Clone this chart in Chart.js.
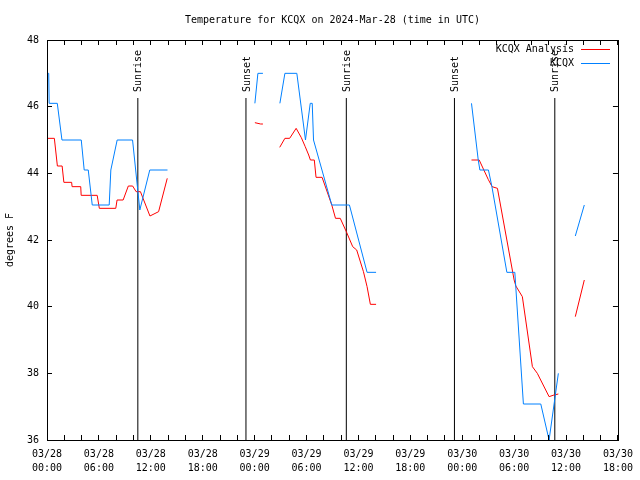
<!DOCTYPE html>
<html>
<head>
<meta charset="utf-8">
<script src="https://cdn.jsdelivr.net/npm/chart.js@4.4.1/dist/chart.umd.min.js"></script>
<style>
html,body{margin:0;padding:0;background:#fff;}
canvas{display:block;}
</style>
</head>
<body>
<canvas id="c" width="640" height="480"></canvas>
<script>
// ---- Data (hours since 2024-03-28 00:00 UTC) ----
const titleText = 'Temperature for KCQX on 2024-Mar-28 (time in UTC)';
const yAxisTitle = 'degrees F';
const seriesNames = ['KCQX Analysis', 'KCQX'];

const xTickDays  = ['03/28','03/28','03/28','03/28','03/29','03/29','03/29','03/29','03/30','03/30','03/30','03/30'];
const xTickTimes = ['00:00','06:00','12:00','18:00','00:00','06:00','12:00','18:00','00:00','06:00','12:00','18:00'];
const yTicks = [36, 38, 40, 42, 44, 46, 48];

const analysisHours = [0,0.85,1.2,1.75,1.95,2.85,2.9,3.9,3.95,5.8,6.05,7.95,8.1,8.8,9.4,9.9,10.3,10.8,11.9,12.9,13.9, 14,
  24.03,24.7,24.96, 25,
  26.9,27.5,28.05,28.8,29.4,29.85,30.25,30.45,30.9,31.1,31.8,32.92,33.35,33.9,34.6,35.34,35.8,36.58,37.0,37.38,38.04, 38.1,
  49.07,49.96,51.0,51.45,52.07,54.0,54.2,54.95,56.11,56.68,58.04,58.6,59.11, 59.2,
  61.07,62.11];
const analysisTemps = [45.05,45.05,44.22,44.22,43.73,43.73,43.6,43.6,43.34,43.34,42.95,42.95,43.2,43.2,43.62,43.62,43.45,43.45,42.72,42.85,43.85, null,
  45.52,45.48,45.48, null,
  44.78,45.05,45.05,45.35,45.07,44.8,44.55,44.4,44.4,43.88,43.88,43.05,42.65,42.65,42.25,41.8,41.7,41.05,40.6,40.07,40.07, null,
  44.4,44.4,43.82,43.6,43.55,40.8,40.62,40.3,38.2,38.0,37.3,37.35,37.38, null,
  39.7,40.8];

const obsHours = [0,0.2,0.25,1.19,1.73,3.96,4.3,4.77,5.23,7.19,7.38,8.11,9.89,10.73,11.88,13.93, 14,
  24.03,24.38,24.96, 25,
  26.92,27.5,28.88,29.88,30.43,30.66,30.81,32.92,34.96,37.0,38.04, 38.1,
  49.07,49.85,50.04,51.03,51.43,53.16,54.08,55.07,57.08,58.04,59.11, 59.2,
  61.07,62.11];
const obsTemps = [47.0,47.0,46.1,46.1,45.0,45.0,44.1,44.1,43.05,43.05,44.1,45.0,45.0,42.9,44.1,44.1, null,
  46.1,47.0,47.0, null,
  46.1,47.0,47.0,45.0,46.1,46.1,45.0,43.05,43.05,41.03,41.03, null,
  46.1,44.4,44.1,44.1,43.6,41.03,41.03,37.08,37.08,36.0,38.0, null,
  42.12,43.05];

const eventHours  = [10.5, 23.0, 34.6, 47.1, 58.7];
const eventLabels = ['Sunrise','Sunset','Sunrise','Sunset','Sunrise'];
const eventTop = 46.26;

// ---- Build ----
const FONT = 'DejaVu Sans Mono';
const RED = '#ff0000';
const BLUE = '#0080ff';
const toPoints = (xs, ys) => xs.map((x, i) => ({x: x, y: ys[i]}));
const eventPoints = [];
eventHours.forEach(h => { eventPoints.push({x:h,y:36},{x:h,y:eventTop},{x:h,y:null}); });

const crisp = v => Math.floor(v) + 0.5;

const decoPlugin = {
  id: 'deco',
  afterDraw(chart) {
    const {ctx, chartArea: a, scales: {x, y}} = chart;
    ctx.save();
    ctx.strokeStyle = '#000';
    ctx.lineWidth = 1;
    // frame
    ctx.strokeRect(crisp(a.left), crisp(a.top), Math.round(a.right - a.left), Math.round(a.bottom - a.top));
    // inward ticks
    const tl = 5;
    ctx.beginPath();
    for (let h = 0; h <= 66; h += 2) {
      const px = crisp(x.getPixelForValue(h));
      ctx.moveTo(px, a.bottom); ctx.lineTo(px, a.bottom - tl);
      ctx.moveTo(px, a.top); ctx.lineTo(px, a.top + tl);
    }
    yTicks.forEach(v => {
      const py = crisp(y.getPixelForValue(v));
      ctx.moveTo(a.left, py); ctx.lineTo(a.left + tl, py);
      ctx.moveTo(a.right, py); ctx.lineTo(a.right - tl, py);
    });
    ctx.stroke();
    // title
    ctx.fillStyle = '#000';
    ctx.font = '10px "' + FONT + '"';
    ctx.textAlign = 'center';
    ctx.textBaseline = 'middle';
    ctx.fillText(titleText, (a.left + a.right) / 2, 20);
    // event labels (rotated)
    eventHours.forEach((h, i) => {
      const px = x.getPixelForValue(h);
      ctx.save();
      ctx.translate(px + 1, 92);
      ctx.rotate(-Math.PI / 2);
      ctx.textAlign = 'left';
      ctx.textBaseline = 'middle';
      ctx.fillText(eventLabels[i], 0, 0);
      ctx.restore();
    });
    // legend
    const colors = [RED, BLUE];
    const ys = [49, 63];
    seriesNames.forEach((n, i) => {
      ctx.textAlign = 'right';
      ctx.textBaseline = 'middle';
      ctx.fillText(n, 574, ys[i]);
      ctx.strokeStyle = colors[i];
      ctx.beginPath();
      ctx.moveTo(581, ys[i] + 0.5);
      ctx.lineTo(610, ys[i] + 0.5);
      ctx.stroke();
    });
    ctx.restore();
  }
};

new Chart(document.getElementById('c'), {
  type: 'line',
  data: {
    datasets: [
      {label: seriesNames[1], data: toPoints(obsHours, obsTemps), borderColor: BLUE, borderWidth: 1, pointRadius: 0, tension: 0, spanGaps: false, order: 1},
      {label: seriesNames[0], data: toPoints(analysisHours, analysisTemps), borderColor: RED, borderWidth: 1, pointRadius: 0, tension: 0, spanGaps: false, order: 2},
      {label: 'events', data: eventPoints, borderColor: '#000', borderWidth: 1, pointRadius: 0, tension: 0, spanGaps: false, order: 3}
    ]
  },
  options: {
    responsive: false,
    animation: false,
    events: [],
    layout: {padding: {left: 0, right: 21, top: 40, bottom: 0}},
    plugins: {legend: {display: false}, title: {display: false}, tooltip: {enabled: false}},
    scales: {
      x: {
        type: 'linear', min: 0, max: 66,
        grid: {display: false, drawTicks: false},
        border: {display: false},
        ticks: {
          stepSize: 6, autoSkip: false, maxRotation: 0, minRotation: 0,
          color: '#000', padding: 7,
          font: {family: FONT, size: 10, lineHeight: 1.4},
          callback: v => { const i = Math.round(v / 6); return [xTickDays[i], xTickTimes[i]]; }
        },
        afterFit(s) { s.height = 40; }
      },
      y: {
        min: 36, max: 48,
        grid: {display: false, drawTicks: false},
        border: {display: false},
        ticks: {stepSize: 2, color: '#000', padding: 8, font: {family: FONT, size: 10},
          callback: v => String(v)},
        title: {display: true, text: yAxisTitle, color: '#000', font: {family: FONT, size: 10}, padding: {top: 4, bottom: 0}},
        afterFit(s) { s.width = 47; }
      }
    }
  },
  plugins: [decoPlugin]
});
</script>
</body>
</html>
